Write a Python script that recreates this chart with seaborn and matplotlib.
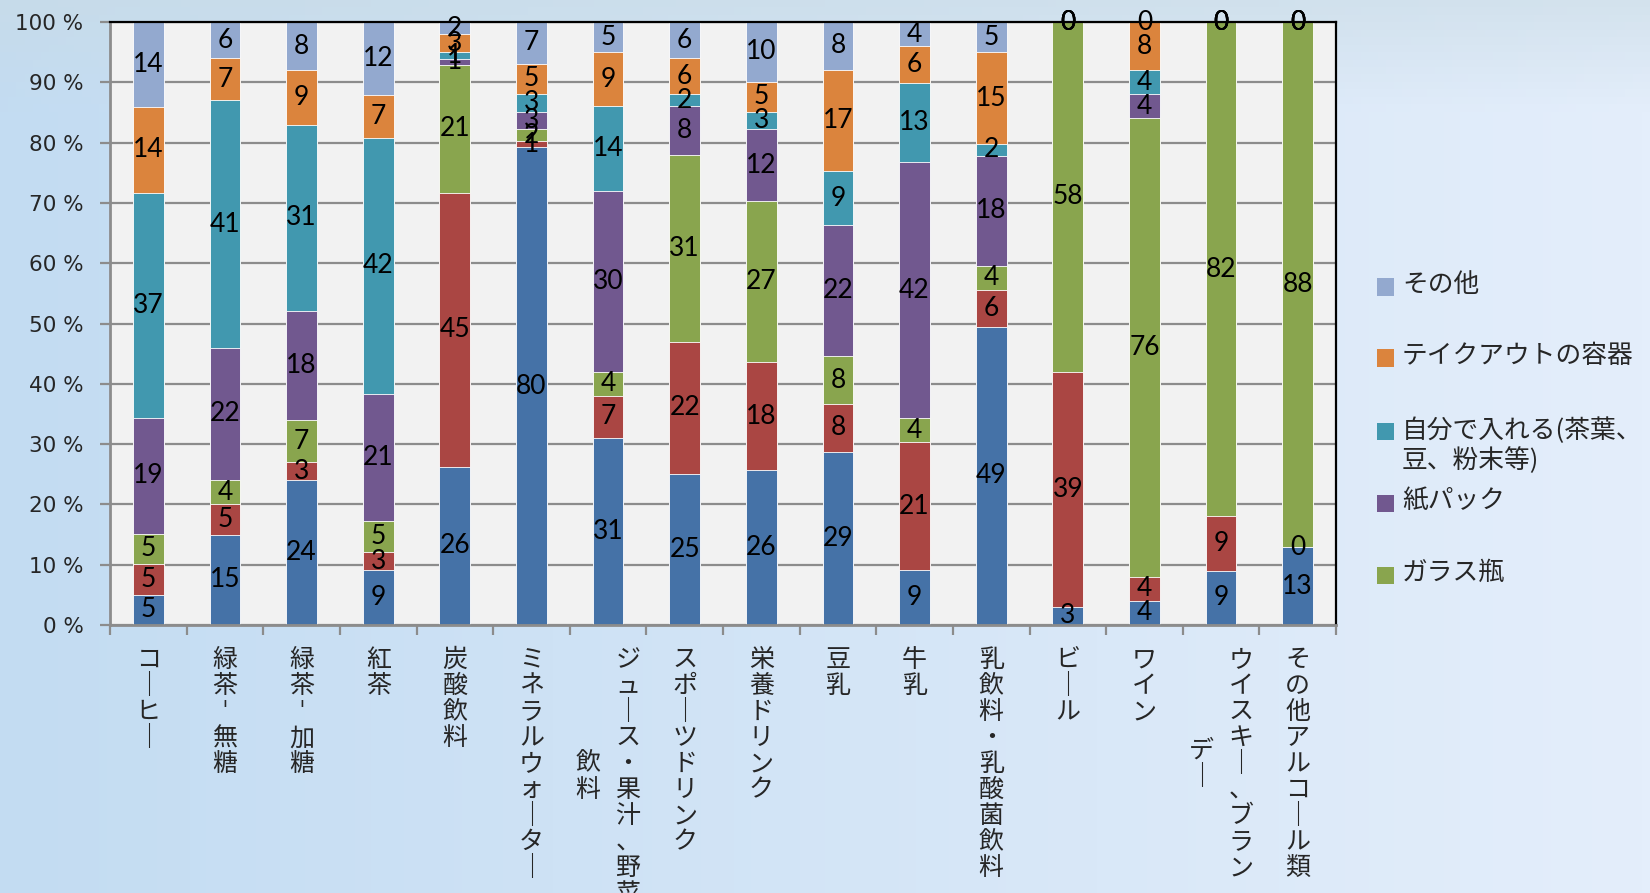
import numpy as np
import matplotlib
matplotlib.use("Agg")
import matplotlib.pyplot as plt
from matplotlib.patches import Rectangle
from matplotlib.colors import to_rgb
import seaborn as sns

categories = ["コーヒー", "緑茶-無糖", "緑茶-加糖", "紅茶", "炭酸飲料", "ミネラルウォーター",
              "ジュース・果汁、野菜飲料", "スポーツドリンク", "栄養ドリンク", "豆乳", "牛乳",
              "乳飲料・乳酸菌飲料", "ビール", "ワイン", "ウイスキー、ブランデー", "その他アルコール類"]

# tick labels as vertical columns (right column first)
tick_columns = [["コーヒー"], ["緑茶-無糖"], ["緑茶-加糖"], ["紅茶"], ["炭酸飲料"], ["ミネラルウォーター"],
                ["ジュース・果汁、野菜", "飲料"], ["スポーツドリンク"], ["栄養ドリンク"], ["豆乳"], ["牛乳"],
                ["乳飲料・乳酸菌飲料"], ["ビール"], ["ワイン"], ["ウイスキー、ブラン", "デー"], ["その他アルコール類"]]

# series, bottom to top
pet = [5, 15, 24, 9, 26, 80, 31, 25, 26, 29, 9, 49, 3, 4, 9, 13]
can = [5, 5, 3, 3, 45, 1, 7, 22, 18, 8, 21, 6, 39, 4, 9, 0]
glass = [5, 4, 7, 5, 21, 2, 4, 31, 27, 8, 4, 4, 58, 76, 82, 88]
paper = [19, 22, 18, 21, 1, 3, 30, 8, 12, 22, 42, 18, 0, 4, 0, 0]
self_made = [37, 41, 31, 42, 1, 3, 14, 2, 3, 9, 13, 2, 0, 4, 0, 0]
takeout = [14, 7, 9, 7, 3, 5, 9, 6, 5, 17, 6, 15, 0, 8, 0, 0]
other = [14, 6, 8, 12, 2, 7, 5, 6, 10, 8, 4, 5, 0, 0, 0, 0]

series_names = ["ペットボトル", "缶", "ガラス瓶", "紙パック", "自分で入れる(茶葉、\n豆、粉末等)",
                "テイクアウトの容器", "その他"]
colors = ["#4572a7", "#aa4643", "#89a54e", "#71588f", "#4198af", "#db843d", "#93a9cf"]
legend_order = [6, 5, 4, 3, 2]

sns.set_theme(style="ticks")
plt.rcParams["font.family"] = ["Noto Sans CJK JP", "DejaVu Sans"]

W, H = 1650, 893
fig = plt.figure(figsize=(W / 100, H / 100), dpi=100)

# background gradient
bg = fig.add_axes([0, 0, 1, 1], zorder=-10)
xx, yy = np.meshgrid(np.linspace(0, 1, 200), np.linspace(0, 1, 120))
c_left, c_right, c_top = np.array(to_rgb("#c3dcf2")), np.array(to_rgb("#e4eefb")), np.array(to_rgb("#c9dbe5"))
img = c_left * (1 - xx[..., None]) + c_right * xx[..., None]
top_w = np.clip(1 - yy / 0.12, 0, 1)[..., None] * 0.6
img = img * (1 - top_w) + c_top * top_w
bg.imshow(img, aspect="auto", extent=[0, 1, 1, 0])
bg.set_axis_off()

ax = fig.add_axes([110 / W, 1 - 625 / H, (1336 - 110) / W, (625 - 22) / H])
ax.set_facecolor("#f2f2f2")
ax.set_axisbelow(True)

vals = np.array([pet, can, glass, paper, self_made, takeout, other], dtype=float)
shares = vals / vals.sum(axis=0) * 100
cum = shares.cumsum(axis=0)
bottoms = cum - shares

for k in range(len(vals) - 1, -1, -1):
    sns.barplot(x=categories, y=cum[k], color=colors[k], width=0.4, saturation=1,
                edgecolor="#ffffff", linewidth=0.6, ax=ax, zorder=2)

for k in range(len(vals)):
    for i in range(len(categories)):
        ax.text(i, bottoms[k, i] + shares[k, i] / 2, f"{vals[k, i]:g}", ha="center", va="center",
                fontsize=19, family="Lato", color="black", zorder=5)

ax.set_xlim(-0.5, len(categories) - 0.5)
ax.set_ylim(0, 100)
ax.set_yticks(np.arange(0, 101, 10))
ax.set_yticklabels([f"{v} %" for v in range(0, 101, 10)], family="DejaVu Sans", fontsize=15.5)
ax.set_xticks(np.arange(-0.5, len(categories), 1))
ax.set_xticklabels([])
ax.set_xlabel("")
ax.set_ylabel("")
ax.yaxis.grid(True, color="#8c8c8c", lw=1.6)
ax.tick_params(axis="both", direction="out", length=7, width=1.6, color="#8c8c8c")
ax.tick_params(axis="y", pad=12)
for side in ["left", "bottom"]:
    ax.spines[side].set_color("#8c8c8c")
    ax.spines[side].set_linewidth(2)
for side in ["top", "right"]:
    ax.spines[side].set_visible(True)
    ax.spines[side].set_color("black")
    ax.spines[side].set_linewidth(1.6)


def vtext(s):
    return "\n".join("｜" if c == "ー" else ("ˈ" if c == "-" else c) for c in s)


step = 18.6  # points per character
for i, cols in enumerate(tick_columns):
    n0 = len(cols[0])
    for j, col in enumerate(cols):
        dx = 0.0 if len(cols) == 1 else (0.26 if j == 0 else -0.26)
        dy = 16 + (n0 - len(col)) / 2 * step
        ax.annotate(vtext(col), xy=(i + dx, 0), xycoords=("data", "axes fraction"),
                    xytext=(0, -dy), textcoords="offset points", ha="center", va="top",
                    fontsize=18, linespacing=1.0, annotation_clip=False)

# legend
centers = [287, 358, 432, 503, 575]
for yc, k in zip(centers, legend_order):
    fig.add_artist(Rectangle((1377 / W, 1 - (yc + 8.5) / H), 17 / W, 17 / H,
                             transform=fig.transFigure, facecolor=colors[k], edgecolor="none"))
    fig.text(1402 / W, 1 - (yc - 15) / H, series_names[k], ha="left", va="top",
             fontsize=18.5, linespacing=1.15)

fig.savefig("out.png", dpi=100)
